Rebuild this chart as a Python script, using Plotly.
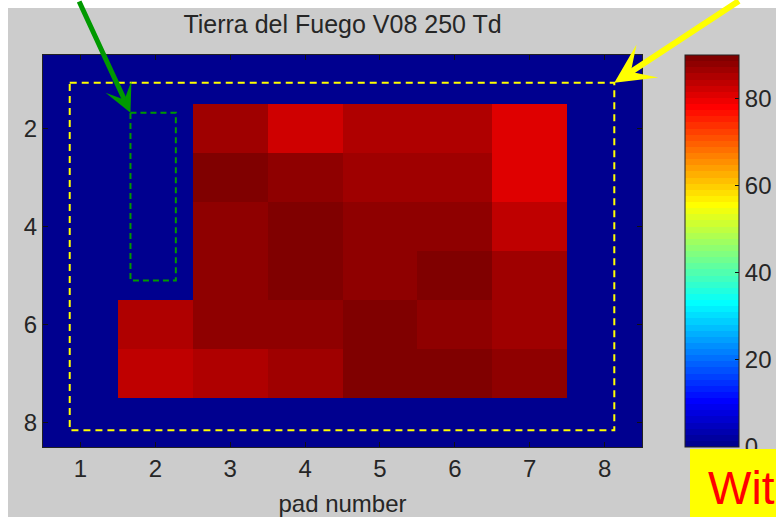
import numpy as np
import plotly.graph_objects as go

# ---- data -------------------------------------------------------------
pads = [1, 2, 3, 4, 5, 6, 7, 8]          # pad number (columns)
rows = [1, 2, 3, 4, 5, 6, 7, 8]          # pad row (rows)
row1 = [0, 0, 0, 0, 0, 0, 0, 0]
row2 = [0, 0, 86.5, 82.3, 85.1, 85.1, 80.9, 0]
row3 = [0, 0, 89.3, 87.9, 86.5, 86.5, 80.9, 0]
row4 = [0, 0, 87.9, 89.3, 87.9, 87.9, 83.7, 0]
row5 = [0, 0, 87.9, 89.3, 87.9, 89.3, 86.5, 0]
row6 = [0, 85.1, 87.9, 87.9, 89.3, 87.9, 86.5, 0]
row7 = [0, 83.7, 85.1, 86.5, 89.3, 89.3, 87.9, 0]
row8 = [0, 0, 0, 0, 0, 0, 0, 0]
z_values = [row1, row2, row3, row4, row5, row6, row7, row8]
cbar_ticks = [0, 20, 40, 60, 80]
z_min, z_max = 0, 90

title_text = "Tierra del Fuego V08 250 Td"
xlabel_text = "pad number"
note_text = "Wit"


# ---- classic 64-step jet colormap -------------------------------------
def jet(m=64):
    n = int(np.ceil(m / 4))
    u = np.concatenate([np.arange(1, n + 1) / n, np.ones(n - 1), np.arange(n, 0, -1) / n])
    g = int(np.ceil(n / 2)) - (1 if m % 4 == 1 else 0) + np.arange(1, len(u) + 1)
    r = g + n
    b = g - n
    cmap = np.zeros((m, 3))
    for idx, val in zip(r, u):
        if 1 <= idx <= m:
            cmap[idx - 1, 0] = val
    for idx, val in zip(g, u):
        if 1 <= idx <= m:
            cmap[idx - 1, 1] = val
    for idx, val in zip(b, u):
        if 1 <= idx <= m:
            cmap[idx - 1, 2] = val
    return cmap


cmap = jet(64)
colorscale = []
for i, c in enumerate(cmap):
    col = "rgb(%d,%d,%d)" % tuple(int(round(v * 255)) for v in c)
    colorscale.append([i / 64, col])
    colorscale.append([(i + 1) / 64, col])

# ---- geometry (pixels) -------------------------------------------------
W, H = 776, 517
ML, MR, MT, MB = 43, 134, 55, 70
PW, PH = W - ML - MR, H - MT - MB


def px_to_paper_x(px):
    return (px - ML) / PW


def px_to_paper_y(py):
    return (H - MB - py) / PH


FONT = "Liberation Sans, Arial, sans-serif"
TXT = "#262626"

fig = go.Figure()
fig.add_trace(go.Heatmap(
    x=pads, y=rows, z=z_values,
    zmin=z_min, zmax=z_max,
    colorscale=colorscale,
    showscale=True,
    colorbar=dict(
        x=px_to_paper_x(685), xanchor="left", xpad=0,
        y=0.5, yanchor="middle", ypad=0,
        len=1, lenmode="fraction",
        thickness=54, thicknessmode="pixels",
        outlinewidth=1, outlinecolor="#222",
        tickmode="array", tickvals=cbar_ticks,
        ticks="inside", ticklen=4, tickcolor="#111",
        tickfont=dict(family=FONT, size=24, color=TXT),
    ),
    hoverinfo="skip",
))

# dashed outlines: whole pad region and the empty column
fig.add_shape(type="rect", xref="x", yref="y",
              x0=0.857, x1=8.13, y0=1.067, y1=8.16,
              line=dict(color="#ffff00", width=2, dash="7px,5px"))
fig.add_shape(type="rect", xref="x", yref="y",
              x0=1.668, x1=2.274, y0=1.677, y1=5.10,
              line=dict(color="#009900", width=2, dash="6px,4px"))

# white strips around the grey figure
fig.add_shape(type="rect", xref="paper", yref="paper",
              x0=px_to_paper_x(-5), x1=px_to_paper_x(8),
              y0=px_to_paper_y(H + 5), y1=px_to_paper_y(-5),
              fillcolor="white", line=dict(width=0), layer="below")
fig.add_shape(type="rect", xref="paper", yref="paper",
              x0=px_to_paper_x(-5), x1=px_to_paper_x(W + 5),
              y0=px_to_paper_y(8), y1=px_to_paper_y(-5),
              fillcolor="white", line=dict(width=0), layer="below")

# pointer arrows
fig.add_annotation(x=1.668, y=1.677, xref="x", yref="y",
                   ax=-52, ay=-130,
                   text="", showarrow=True, arrowhead=3, arrowsize=0.95,
                   arrowwidth=5, arrowcolor="#009900")
fig.add_annotation(x=8.13, y=1.067, xref="x", yref="y",
                   ax=126, ay=-97,
                   text="", showarrow=True, arrowhead=3, arrowsize=1.1,
                   arrowwidth=6, arrowcolor="#ffff00")

# yellow note box
fig.add_annotation(x=px_to_paper_x(690), y=px_to_paper_y(449),
                   xref="paper", yref="paper", xanchor="left", yanchor="top",
                   text=" ", showarrow=False, bgcolor="#ffff00",
                   width=120, height=90, borderpad=0, borderwidth=0)
fig.add_annotation(x=px_to_paper_x(706), y=px_to_paper_y(488),
                   xref="paper", yref="paper", xanchor="left", yanchor="middle",
                   text=note_text, showarrow=False,
                   font=dict(family=FONT, size=46, color="#ff0000"))

fig.update_layout(
    width=W, height=H,
    margin=dict(l=ML, r=MR, t=MT, b=MB, pad=0, autoexpand=False),
    paper_bgcolor="#cccccc", plot_bgcolor="#00008f",
    title=dict(text=title_text, x=342.5 / W,
               xanchor="center", y=1 - 24 / H, yanchor="middle",
               font=dict(family=FONT, size=25, color=TXT)),
    font=dict(family=FONT, color=TXT),
    showlegend=False,
)
fig.update_xaxes(
    range=[0.5, 8.5], tickmode="array", tickvals=pads,
    ticks="inside", ticklen=5, tickcolor="#111", tickwidth=1,
    showline=True, linecolor="#222", linewidth=1, mirror="all",
    showgrid=False, zeroline=False,
    tickfont=dict(family=FONT, size=24, color=TXT),
    title=dict(text=xlabel_text, font=dict(family=FONT, size=24, color=TXT), standoff=14),
)
fig.update_yaxes(
    range=[8.5, 0.5], tickmode="array", tickvals=[2, 4, 6, 8],
    ticks="inside", ticklen=5, tickcolor="#111", tickwidth=1,
    showline=True, linecolor="#222", linewidth=1, mirror="all",
    showgrid=False, zeroline=False,
    tickfont=dict(family=FONT, size=24, color=TXT),
)

fig.write_html("out.html")
